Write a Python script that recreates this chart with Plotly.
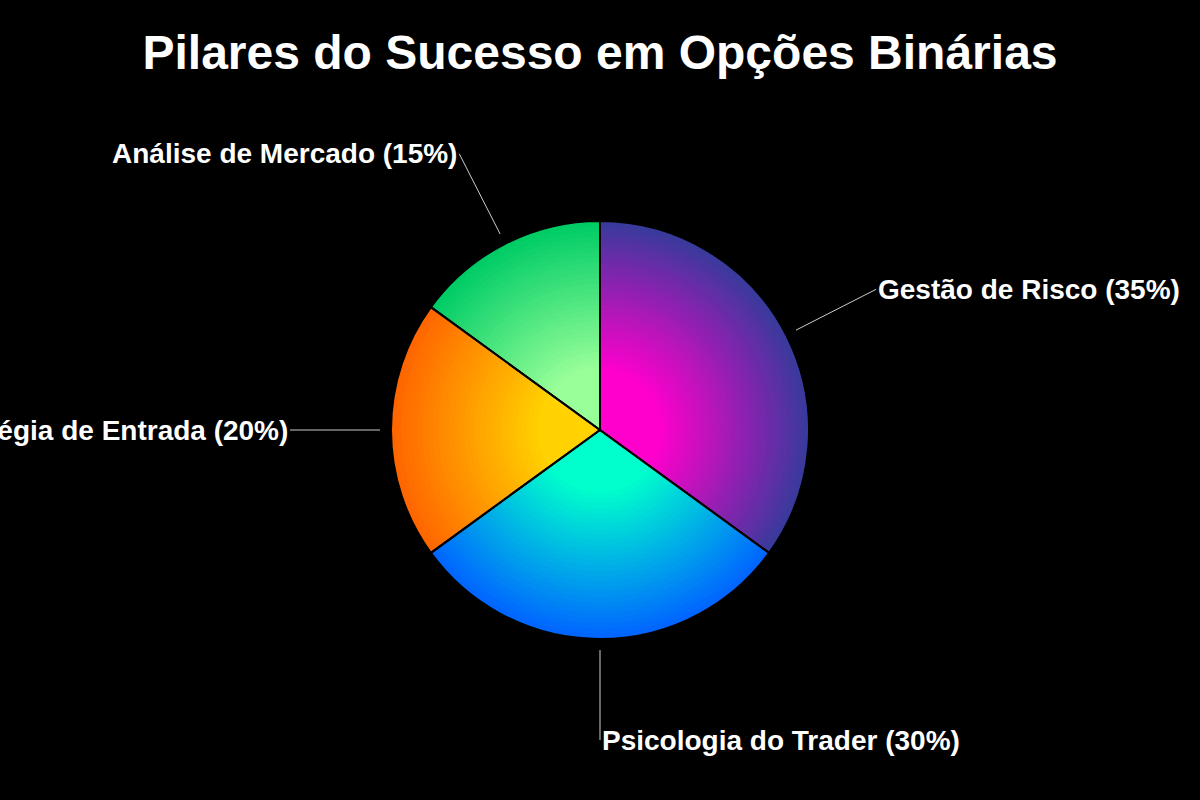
import numpy as np
import plotly.graph_objects as go

# chart data
labels = ["Gestão de Risco", "Psicologia do Trader", "Estratégia de Entrada", "Análise de Mercado"]
values = [35, 30, 20, 15]
inner_colors = ["#FF00CC", "#00FFCC", "#FFD200", "#99FF99"]
outer_colors = ["#3A3A9C", "#0066FF", "#FF6600", "#00CC66"]

W, H = 1200, 800
cx, cy, R = 600, 430, 209  # pie centre / radius in px
FONT = "Liberation Sans, Arial, sans-serif"


def hex_rgb(h):
    h = h.lstrip("#")
    return np.array([int(h[i:i + 2], 16) for i in (0, 2, 4)], dtype=float)


def mix(c_in, c_out, t):
    c = hex_rgb(c_in) * (1 - t) + hex_rgb(c_out) * t
    return "rgb(%d,%d,%d)" % tuple(np.round(c))


def domain(f):
    r = R * f
    return dict(x=[(cx - r) / W, (cx + r) / W], y=[1 - (cy + r) / H, 1 - (cy - r) / H])


fig = go.Figure()

# fake radial gradient: stack of shrinking pies, outer colour -> inner colour
n_layers = 40
inner_stop = 0.3
for k in range(n_layers):
    f = 1 - k / n_layers
    t = min(1.0, max(0.0, (f - inner_stop) / (1 - inner_stop)))
    fig.add_trace(go.Pie(
        labels=labels, values=values, sort=False, direction="clockwise", rotation=0,
        domain=domain(f),
        marker=dict(colors=[mix(ci, co, t) for ci, co in zip(inner_colors, outer_colors)],
                    line=dict(width=0)),
        textinfo="none", hoverinfo="skip", showlegend=False,
    ))

# border lines on top
fig.add_trace(go.Pie(
    labels=labels, values=values, sort=False, direction="clockwise", rotation=0,
    domain=domain(1),
    marker=dict(colors=["rgba(0,0,0,0)"] * len(values), line=dict(color="#000000", width=2)),
    textinfo="none", hovertemplate="%{label}: %{value}%<extra></extra>", showlegend=False,
))

# outside labels with leader lines
total = sum(values)
cum = 0
for lab, v in zip(labels, values):
    mid = (cum + v / 2) / total
    cum += v
    th = 2 * np.pi * mid
    dx, dy = np.sin(th), -np.cos(th)
    r0, r1 = 220, 310
    x0, y0 = cx + r0 * dx, cy + r0 * dy
    fig.add_annotation(
        x=x0 / W, y=1 - y0 / H, xref="paper", yref="paper",
        ax=(r1 - r0) * dx, ay=(r1 - r0) * dy,
        text=f"{lab} ({v}%)",
        showarrow=True, arrowhead=0, arrowwidth=1, arrowcolor="#cccccc", standoff=0,
        xanchor="left" if dx >= -1e-9 else "right", yanchor="middle",
        font=dict(family=FONT, size=28, color="white", weight="bold"),
    )

fig.update_layout(
    width=W, height=H,
    paper_bgcolor="black", plot_bgcolor="black",
    margin=dict(l=0, r=0, t=0, b=0),
    title=dict(text="Pilares do Sucesso em Opções Binárias", x=0.5, xanchor="center",
               y=1 - 52 / H, yanchor="middle", yref="container",
               font=dict(family=FONT, size=48, color="white", weight="bold")),
)

fig.write_html("out.html", config={"displayModeBar": False},
               post_script="document.body.style.margin='0';")
